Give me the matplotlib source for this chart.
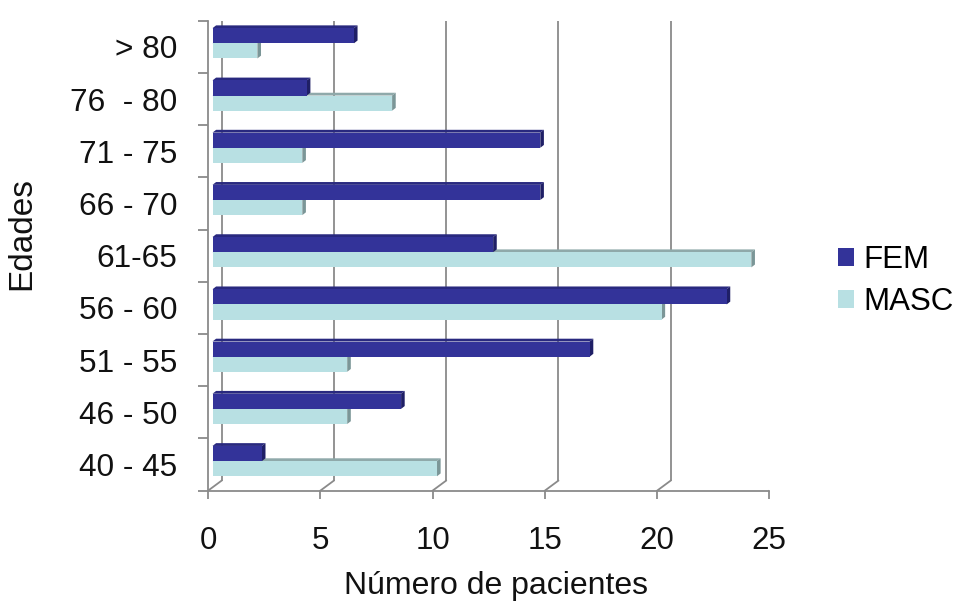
import matplotlib
matplotlib.use("Agg")
import matplotlib.pyplot as plt
from matplotlib.patches import Polygon
from matplotlib.transforms import ScaledTranslation, IdentityTransform
from matplotlib.lines import Line2D
import numpy as np

# ---- data ----
categories = ["40 - 45", "46 - 50", "51 - 55", "56 - 60", "61-65",
              "66 - 70", "71 - 75", "76  - 80", "> 80"]
fem = [2.2, 8.4, 16.8, 22.9, 12.5, 14.6, 14.6, 4.2, 6.3]
masc = [10, 6, 6, 20, 24, 4, 4, 8, 2]
x_ticks = [0, 5, 10, 15, 20, 25]
series_names = ["FEM", "MASC"]

# ---- style ----
FONT = ["Liberation Sans", "DejaVu Sans"]
plt.rcParams["font.family"] = FONT
GRID = "#8a8a8a"
TEXT = "#111111"
FEM_FRONT, FEM_TOP, FEM_SIDE = "#333399", "#29297f", "#1f1f66"
MASC_FRONT, MASC_TOP, MASC_SIDE = "#b8e0e3", "#8fa9aa", "#7b9697"

DPI = 100
W, H = 959, 613
fig = plt.figure(figsize=(W / DPI, H / DPI), dpi=DPI)
fig.patch.set_facecolor("white")

# front plane of the 3D box
ax = fig.add_axes([208 / W, 122.3 / H, 561.3 / W, 470 / H])
ax.set_xlim(0, 25)
ax.set_ylim(-0.5, 8.5)
ax.set_facecolor("none")

# depth vectors in pixels (x right, y up)
WALL_DX, WALL_DY = 13.5, 10.0
BAR_OX, BAR_OY = 4.5, 3.5
BAR_DX, BAR_DY = 3.6, 2.8
BAR_H = 0.29
LW = 1.3


def shifted(dx, dy):
    return ax.transData + ScaledTranslation(dx / DPI, dy / DPI, fig.dpi_scale_trans)


# back wall gridlines and floor depth lines
for t in x_ticks:
    ax.plot([t, t], [-0.5, 8.5], color=GRID, lw=LW, zorder=1,
            transform=shifted(WALL_DX, WALL_DY), solid_capstyle="butt")
    p0 = ax.transData.transform((t, -0.5))
    ax.add_line(Line2D([p0[0], p0[0] + WALL_DX], [p0[1], p0[1] + WALL_DY],
                       color=GRID, lw=LW, transform=IdentityTransform(), zorder=1))
# top-left edge of the side wall
p0 = ax.transData.transform((0, 8.5))
ax.add_line(Line2D([p0[0], p0[0] + WALL_DX], [p0[1], p0[1] + WALL_DY],
                   color=GRID, lw=LW, transform=IdentityTransform(), zorder=1))

y = np.arange(len(categories))
bar_tr = shifted(BAR_OX, BAR_OY)


def faces(values, ycent, top_c, side_c):
    for v, yc in zip(values, ycent):
        x0, y0 = ax.transData.transform((0, yc - BAR_H / 2))
        x1, y1 = ax.transData.transform((v, yc + BAR_H / 2))
        x0 += BAR_OX; x1 += BAR_OX; y0 += BAR_OY; y1 += BAR_OY
        top = [(x0, y1), (x1, y1), (x1 + BAR_DX, y1 + BAR_DY), (x0 + BAR_DX, y1 + BAR_DY)]
        side = [(x1, y0), (x1, y1), (x1 + BAR_DX, y1 + BAR_DY), (x1 + BAR_DX, y0 + BAR_DY)]
        for pts, c in ((top, top_c), (side, side_c)):
            ax.add_patch(Polygon(pts, closed=True, facecolor=c, edgecolor="none",
                                 transform=IdentityTransform(), zorder=3))


# MASC bars (lower of each pair), then FEM bars on top
faces(masc, y - BAR_H / 2, MASC_TOP, MASC_SIDE)
b_masc = ax.barh(y - BAR_H / 2, masc, height=BAR_H, color=MASC_FRONT,
                 transform=bar_tr, zorder=4, label=series_names[1])
faces(fem, y + BAR_H / 2, FEM_TOP, FEM_SIDE)
b_fem = ax.barh(y + BAR_H / 2, fem, height=BAR_H, color=FEM_FRONT,
                transform=bar_tr, zorder=5, label=series_names[0])

# spines / ticks
for s in ("top", "right"):
    ax.spines[s].set_visible(False)
for s in ("left", "bottom"):
    ax.spines[s].set_color(GRID)
    ax.spines[s].set_linewidth(LW)
    ax.spines[s].set_zorder(2)

ax.set_xticks(x_ticks)
ax.set_xticklabels([str(t) for t in x_ticks])
ax.tick_params(axis="x", length=6.1, width=LW, color=GRID, pad=19.5,
               labelsize=22.5, labelcolor=TEXT)
ax.set_yticks(y)
ax.set_yticklabels(categories)
ax.set_yticks(np.arange(-0.5, len(categories)), minor=True)
ax.tick_params(axis="y", which="major", length=0, pad=22.3,
               labelsize=22.8, labelcolor=TEXT)
ax.tick_params(axis="y", which="minor", length=7.2, width=LW, color=GRID)

ax.set_xlabel("Número de pacientes", fontsize=23, color=TEXT)
ax.xaxis.set_label_coords((496 - 208) / 561.3, -(586 - 490.7) / 470)
ax.xaxis.label.set_verticalalignment("center")
ax.set_ylabel("Edades", fontsize=24, color=TEXT)
ax.yaxis.set_label_coords(-(208 - 22) / 561.3, (490.7 - 234) / 470)
ax.yaxis.label.set_verticalalignment("center")

ax.legend([b_fem, b_masc], series_names, loc="center left",
          bbox_to_anchor=(838 / W, 1 - 281 / H), bbox_transform=fig.transFigure,
          frameon=False, fontsize=22.5, handlelength=0.5, handleheight=0.5,
          handletextpad=0.3, labelspacing=0.4, borderpad=0, borderaxespad=0)

fig.savefig("out.png", dpi=DPI, facecolor="white")
